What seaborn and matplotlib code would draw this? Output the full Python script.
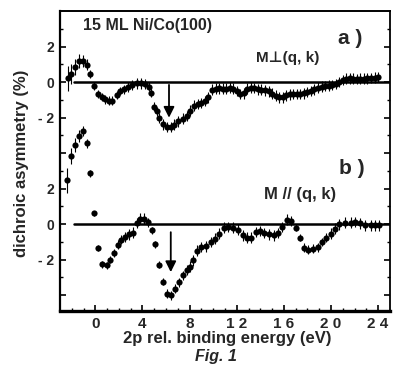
import numpy as np
import pandas as pd
import matplotlib
matplotlib.use("Agg")
import matplotlib.pyplot as plt
import seaborn as sns

# ----- data -----------------------------------|
# panel a) M perp (q, k)
energy_a = [-2.35, -2.05, -1.72, -1.38, -1.08, -0.75, -0.44, -0.1, 0.2, 0.54, 0.82, 1.13, 1.42,
            1.8, 2.1, 2.43, 2.8, 3.15, 3.5, 3.85, 4.18, 4.52, 4.73, 4.97, 5.2, 5.4, 5.7, 6.05,
            6.38, 6.7, 7.05, 7.4, 7.75, 8.05, 8.35, 8.7, 9.0, 9.3, 9.6, 9.9, 10.2, 10.5, 10.8,
            11.1, 11.4, 11.7, 12.0, 12.3, 12.6, 12.9, 13.2, 13.5, 13.8, 14.1, 14.4, 14.7, 15.0,
            15.3, 15.6, 15.9, 16.2, 16.5, 16.8, 17.1, 17.4, 17.7, 18.0, 18.3, 18.6, 18.9, 19.2,
            19.5, 19.8, 20.1, 20.4, 20.7, 21.0, 21.3, 21.6, 21.9, 22.2, 22.5, 22.8, 23.1, 23.4,
            23.7, 24.0]
asym_a = [0.23, 0.45, 0.88, 1.18, 1.2, 0.98, 0.46, -0.23, -0.65, -0.84, -0.95, -1.04, -1.05,
          -0.72, -0.5, -0.39, -0.28, -0.15, -0.06, -0.06, -0.1, -0.26, -0.6, -1.37, -1.65, -2.02,
          -2.38, -2.53, -2.52, -2.4, -2.2, -2.05, -1.9, -1.6, -1.33, -1.22, -1.18, -1.05, -0.85,
          -0.42, -0.36, -0.34, -0.36, -0.36, -0.3, -0.36, -0.5, -0.66, -0.62, -0.36, -0.3, -0.33,
          -0.4, -0.42, -0.46, -0.52, -0.64, -0.76, -0.85, -0.86, -0.74, -0.68, -0.66, -0.66,
          -0.66, -0.62, -0.56, -0.5, -0.4, -0.3, -0.25, -0.22, -0.2, -0.16, -0.1, 0.02, 0.13,
          0.2, 0.22, 0.2, 0.19, 0.2, 0.2, 0.22, 0.23, 0.26, 0.3]
err_a = [0.7, 0.55, 0.45, 0.4, 0.35, 0.3, 0.25, 0.22, 0.22, 0.22, 0.25, 0.25, 0.25,
         0.22, 0.22, 0.25, 0.28, 0.3, 0.3, 0.3, 0.3, 0.25, 0.25, 0.25, 0.25, 0.28, 0.3, 0.3,
         0.3, 0.3, 0.3, 0.3, 0.3, 0.3, 0.3, 0.3, 0.3, 0.3, 0.3, 0.3, 0.3, 0.3, 0.3,
         0.3, 0.3, 0.3, 0.3, 0.3, 0.3, 0.3, 0.3, 0.3, 0.3, 0.3, 0.3, 0.3, 0.3,
         0.3, 0.3, 0.3, 0.3, 0.3, 0.3, 0.3, 0.3, 0.3, 0.3, 0.3, 0.3, 0.3, 0.3,
         0.3, 0.3, 0.3, 0.3, 0.3, 0.3, 0.3, 0.3, 0.3, 0.3, 0.3, 0.3, 0.3, 0.3,
         0.3, 0.3]

# panel b) M // (q, k)
energy_b = [-2.37, -2.06, -1.72, -1.38, -1.07, -0.73, -0.42, -0.08, 0.2, 0.6, 0.97, 1.25, 1.58,
            1.9, 2.18, 2.5, 2.86, 3.17, 3.5, 3.8, 4.15, 4.45, 4.78, 5.06, 5.4, 5.76, 6.05, 6.42,
            6.75, 7.1, 7.4, 7.75, 8.03, 8.3, 8.64, 9.0, 9.38, 9.78, 10.14, 10.5, 10.9, 11.27,
            11.7, 12.1, 12.5, 12.83, 13.2, 13.6, 13.96, 14.32, 14.75, 15.14, 15.5, 15.88, 16.27,
            16.6, 17.07, 17.35, 17.7, 18.05, 18.47, 18.9, 19.24, 19.6, 19.97, 20.3, 20.7, 21.16,
            21.67, 22.07, 22.43, 22.86, 23.4, 23.75, 24.1]
asym_b = [2.48, 3.87, 4.46, 4.97, 5.25, 4.55, 2.88, 0.62, -1.34, -2.27, -2.32, -2.0, -1.62,
          -1.15, -0.87, -0.72, -0.57, -0.47, 0.07, 0.32, 0.32, 0.12, -0.34, -1.14, -2.28, -3.23,
          -3.92, -4.0, -3.64, -3.27, -2.89, -2.58, -2.4, -2.04, -1.5, -1.29, -1.25, -1.0, -0.81,
          -0.53, -0.19, -0.16, -0.19, -0.31, -0.63, -0.76, -0.76, -0.44, -0.38, -0.5, -0.57,
          -0.63, -0.5, -0.16, 0.26, 0.18, -0.19, -0.76, -1.32, -1.44, -1.38, -1.29, -1.0, -0.76,
          -0.53, -0.25, 0.0, 0.08, 0.08, 0.13, 0.04, -0.06, -0.06, -0.06, -0.06]
err_b = [0.7, 0.45, 0.4, 0.35, 0.3, 0.25, 0.2, 0.15, 0.15, 0.2, 0.2, 0.2, 0.25,
         0.25, 0.25, 0.28, 0.3, 0.3, 0.3, 0.3, 0.3, 0.25, 0.2, 0.2, 0.2, 0.2,
         0.25, 0.25, 0.25, 0.25, 0.28, 0.28, 0.3, 0.3, 0.3, 0.3, 0.3, 0.3, 0.3,
         0.3, 0.3, 0.3, 0.3, 0.3, 0.3, 0.3, 0.3, 0.3, 0.3, 0.3, 0.3,
         0.3, 0.3, 0.3, 0.3, 0.3, 0.2, 0.2, 0.25, 0.25, 0.25, 0.25, 0.25, 0.25,
         0.3, 0.3, 0.3, 0.3, 0.3, 0.3, 0.3, 0.3, 0.3, 0.3, 0.3]

OFFSET_B = -8          # panel b is stacked below panel a on the same axis
ARROW_X = [6.25, 6.4]  # arrows marking the minima

x_ticks = [0, 4, 8, 12, 16, 20, 24]
x_ticklabels = ["0", "4", "8", "1 2", "1 6", "2 0", "2 4"]
y_ticks = [2, 0, -2, -4, -6, -8, -10, -12]
y_ticklabels = ["2", "0", "- 2", "", "2", "0", "- 2", ""]
# -----------------------------------------------|

sns.set_theme(style="ticks")
plt.rcParams['font.family'] = ['Liberation Sans', 'DejaVu Sans']
plt.rcParams['font.weight'] = 'bold'

df_a = pd.DataFrame({'energy': energy_a, 'asym': asym_a, 'err': err_a})
df_b = pd.DataFrame({'energy': energy_b, 'asym': asym_b, 'err': err_b})
df_b['shifted'] = df_b['asym'] + OFFSET_B

fig = plt.figure(figsize=(3.95, 3.74), dpi=100)
ax = fig.add_axes([0.152, 0.168, 0.835, 0.802])

# zero reference lines
ax.plot([-1.8, 25], [0, 0], color='black', lw=1.8, zorder=1)
ax.plot([-1.8, 25], [OFFSET_B, OFFSET_B], color='black', lw=1.8, zorder=1)

ax.errorbar(df_a['energy'], df_a['asym'], yerr=df_a['err'], fmt='none',
            ecolor='black', elinewidth=0.8, zorder=2)
ax.errorbar(df_b['energy'], df_b['shifted'], yerr=df_b['err'], fmt='none',
            ecolor='black', elinewidth=0.8, zorder=2)
sns.scatterplot(data=df_a, x='energy', y='asym', ax=ax, color='black', s=20,
                edgecolor='black', linewidth=0, zorder=3)
sns.scatterplot(data=df_b, x='energy', y='shifted', ax=ax, color='black', s=20,
                edgecolor='black', linewidth=0, zorder=3)

# arrows
ax.annotate('', xy=(ARROW_X[0], -2.0), xytext=(ARROW_X[0], -0.15),
            arrowprops=dict(arrowstyle='-|>', color='black', lw=1.3,
                            mutation_scale=16, shrinkA=0, shrinkB=0))
ax.annotate('', xy=(ARROW_X[1], OFFSET_B - 2.7), xytext=(ARROW_X[1], OFFSET_B - 0.45),
            arrowprops=dict(arrowstyle='-|>', color='black', lw=1.3,
                            mutation_scale=16, shrinkA=0, shrinkB=0))

ax.set_xlim(-3, 25)
ax.set_ylim(-12.9, 4.0)
ax.set_xticks(x_ticks)
ax.set_xticklabels(x_ticklabels, fontsize=11, fontweight='bold')
ax.set_xticks(np.arange(-2, 25, 1), minor=True)
ax.set_yticks(y_ticks)
ax.set_yticklabels(y_ticklabels, fontsize=10, fontweight='bold')
ax.set_yticks(np.arange(-12, 4, 1), minor=True)
ax.tick_params(which='both', direction='in', right=True, top=False, color='black')
ax.tick_params(which='major', length=4, width=1.2, pad=4)
ax.tick_params(which='minor', length=2.5, width=1)
ax.tick_params(axis='y', which='minor', left=True, right=True)
ax.set_xlabel('')
ax.set_ylabel('')

for side, lw in [('left', 1.6), ('right', 1.3), ('top', 1.4), ('bottom', 2.4)]:
    ax.spines[side].set_visible(True)
    ax.spines[side].set_linewidth(lw)
    ax.spines[side].set_color('black')

ax.text(0.07, 0.953, '15 ML Ni/Co(100)', transform=ax.transAxes, fontsize=11.5,
        fontweight='bold', ha='left', va='center')
ax.text(0.879, 0.91, 'a )', transform=ax.transAxes, fontsize=15,
        fontweight='bold', ha='center', va='center')
ax.text(0.691, 0.843, 'M\u22a5(q, k)', transform=ax.transAxes, fontsize=11,
        fontweight='bold', ha='center', va='center')
ax.text(0.885, 0.477, 'b )', transform=ax.transAxes, fontsize=15,
        fontweight='bold', ha='center', va='center')
ax.text(0.727, 0.39, 'M // (q, k)', transform=ax.transAxes, fontsize=12,
        fontweight='bold', ha='center', va='center')

fig.text(22 / 395, 1 - 163 / 374, 'dichroic asymmetry (%)', rotation=90,
         fontsize=12, fontweight='bold', ha='center', va='center')
fig.text(227 / 395, 1 - 338 / 374, '2p rel. binding energy (eV)',
         fontsize=12, fontweight='bold', ha='center', va='center')
fig.text(216 / 395, 1 - 356 / 374, 'Fig. 1', fontsize=11.5, fontweight='bold',
         style='italic', ha='center', va='center')

fig.savefig('out.png', dpi=100, facecolor='white')
